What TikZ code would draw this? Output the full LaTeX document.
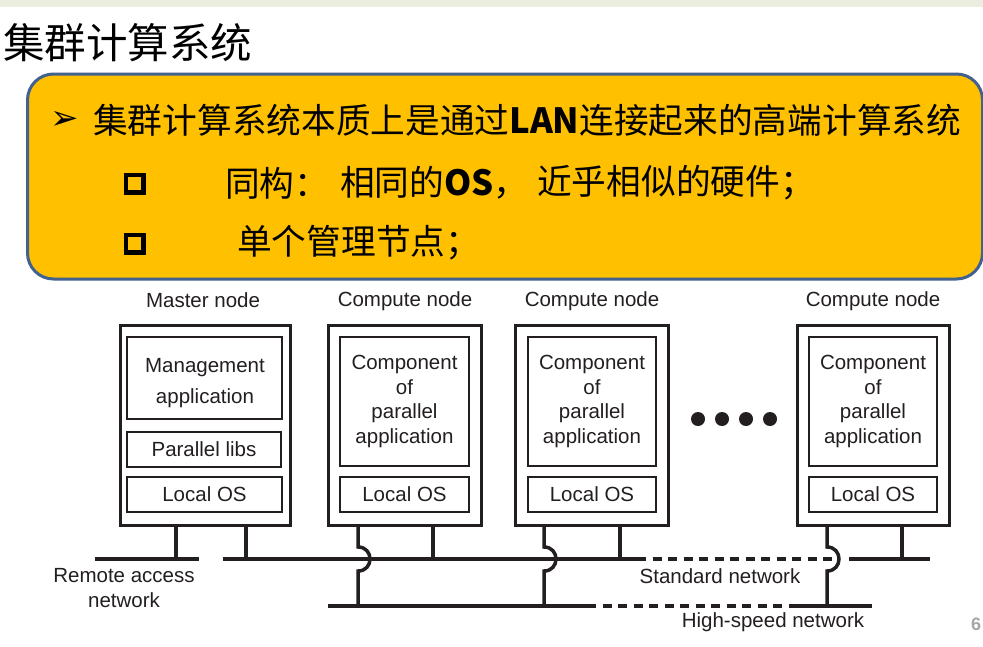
\documentclass[tikz,border=0pt]{standalone}
\usepackage{fontspec}
\setmainfont{Liberation Sans}
\newfontfamily\cjk{Noto Sans CJK SC}
\newfontfamily\dejavu{DejaVu Sans}
\definecolor{bandgray}{HTML}{EBEEDF}
\definecolor{panelfill}{HTML}{FFC000}
\definecolor{panelline}{HTML}{41618F}
\definecolor{ink}{HTML}{231F20}
\definecolor{pagegray}{HTML}{A6A6A6}
\begin{document}
\begin{tikzpicture}[x=1pt,y=-1pt,
  outerbox/.style={draw=ink, line width=3pt, minimum height=200pt, minimum width=153pt, inner sep=0pt},
  innerbox/.style={draw=ink, line width=1.8pt, inner sep=0pt, align=center, text=ink,
     font=\fontsize{20.5}{24.5}\selectfont},
  lbl/.style={inner sep=0pt, text=ink, align=center, font=\fontsize{20.5}{24.5}\selectfont},
  cjktext/.style={inner sep=0pt, anchor=west, font=\cjk\fontsize{34.7}{40}\selectfont},
  sqbullet/.style={draw=black, line width=4.5pt, minimum width=17.5pt, minimum height=17.5pt, inner sep=0pt},
  net/.style={draw=ink, line width=3.5pt, line cap=butt},
  dashnet/.style={draw=ink, line width=3.5pt, line cap=butt, dash pattern=on 9pt off 6.5pt},
  dotmark/.style={circle, fill=ink, minimum size=14pt, inner sep=0pt}
]
\useasboundingbox (0,0) rectangle (983,646);
\fill[white] (0,0) rectangle (983,646);
\fill[bandgray] (0,0) rectangle (983,7);

% title
\node[inner sep=0pt, anchor=west, font=\cjk\fontsize{41.5}{46}\selectfont] (title) at (3,43) {集群计算系统};

% yellow panel
\node[draw=panelline, fill=panelfill, line width=3pt, rounded corners=26pt,
      minimum width=955pt, minimum height=205pt, anchor=north west, inner sep=0pt] (panel) at (26,72.5) {};

\node[inner sep=0pt, font=\dejavu\fontsize{34}{36}\selectfont] (arrowbullet) at (65,120) {➢};
\node[cjktext] (line1) at (93,120) {集群计算系统本质上是通过{\bfseries LAN}连接起来的高端计算系统};
\node[sqbullet] (b2) at (134.5,183.5) {};
\node[cjktext] (line2a) at (225,183) {同构：};
\node[cjktext] (line2b) at (340,183) {相同的{\bfseries OS}，};
\node[cjktext] (line2c) at (537,183) {近乎相似的硬件；};
\node[sqbullet] (b3) at (134.5,243.5) {};
\node[cjktext] (line3) at (237,243) {单个管理节点；};

% master node
\node[lbl] (mlabel) at (203,300) {Master node};
\node[outerbox, minimum width=170pt] (master) at (205,425) {};
\node[innerbox, minimum width=155pt, minimum height=82pt] (mgmt) at (204.5,378) {};
\node[lbl, font=\fontsize{20.5}{31}\selectfont] (mgmttext) at (205,383) {Management\\application};
\node[innerbox, minimum width=154pt, minimum height=35pt] (plibs) at (204,449.5) {Parallel libs};
\node[innerbox, minimum width=155pt, minimum height=35pt] (mos) at (204.5,494.5) {Local OS};

% compute nodes
\node[lbl] (c1label) at (405,301) {Compute node};
\node[outerbox] (c1) at (404.5,425) {};
\node[innerbox, minimum width=129pt, minimum height=129pt] (c1app) at (404.5,401.5) {Component\\of\\parallel\\application};
\node[innerbox, minimum width=129pt, minimum height=35pt] (c1os) at (404.5,494.5) {Local OS};

\node[lbl] (c2label) at (592,301) {Compute node};
\node[outerbox] (c2) at (591.5,425) {};
\node[innerbox, minimum width=128pt, minimum height=129pt] (c2app) at (592,401.5) {Component\\of\\parallel\\application};
\node[innerbox, minimum width=128pt, minimum height=35pt] (c2os) at (592,494.5) {Local OS};

\node[lbl] (c4label) at (873,301) {Compute node};
\node[outerbox, minimum width=152pt] (c4) at (873,425) {};
\node[innerbox, minimum width=128pt, minimum height=129pt] (c4app) at (873,401.5) {Component\\of\\parallel\\application};
\node[innerbox, minimum width=128pt, minimum height=35pt] (c4os) at (873,494.5) {Local OS};

% dots
\node[dotmark] (d1) at (698,419) {};
\node[dotmark] (d2) at (722,419) {};
\node[dotmark] (d3) at (746,419) {};
\node[dotmark] (d4) at (770,419) {};

% network coordinates
\coordinate (ra1) at (95,559);  \coordinate (ra2) at (199,559);
\coordinate (sn1) at (223,559); \coordinate (sn2) at (637,559);
\coordinate (sn3) at (835,559); \coordinate (sn4) at (849,559); \coordinate (sn5) at (930,559);
\coordinate (hs1) at (328,606); \coordinate (hs2) at (587,606);
\coordinate (hs3) at (790,606); \coordinate (hs4) at (872,606);

\draw[net] (ra1) -- (ra2);
\draw[net] (sn1) -- (sn2);
\draw[dashnet] (sn2) -- (sn3);
\draw[net] (sn4) -- (sn5);
\draw[net] (hs1) -- (hs2);
\draw[dashnet] (hs2) -- (hs3);
\draw[net] (hs3) -- (hs4);

% legs
\coordinate (mLt) at (176,525); \coordinate (mLb) at (176,559);
\coordinate (mRt) at (246,525); \coordinate (mRb) at (246,559);
\draw[net] (mLt) -- (mLb);
\draw[net] (mRt) -- (mRb);

\coordinate (c1Lt) at (358,525); \coordinate (c1Lb) at (358,606);
\coordinate (c1Rt) at (433,525); \coordinate (c1Rb) at (433,559);
\draw[net] (c1Lt) -- (358,547) .. controls (374,547) and (374,571) .. (358,571) -- (c1Lb);
\draw[net] (c1Rt) -- (c1Rb);

\coordinate (c2Lt) at (544,525); \coordinate (c2Lb) at (544,606);
\coordinate (c2Rt) at (620,525); \coordinate (c2Rb) at (620,559);
\draw[net] (c2Lt) -- (544,547) .. controls (560,547) and (560,571) .. (544,571) -- (c2Lb);
\draw[net] (c2Rt) -- (c2Rb);

\coordinate (c4Lt) at (827,525); \coordinate (c4Lb) at (827,606);
\coordinate (c4Rt) at (902,525); \coordinate (c4Rb) at (902,559);
\draw[net] (c4Lt) -- (827,547) .. controls (843,547) and (843,571) .. (827,571) -- (c4Lb);
\draw[net] (c4Rt) -- (c4Rb);

% network labels
\node[lbl] (ralabel) at (124,588) {Remote access\\network};
\node[lbl] (snlabel) at (720,576) {Standard network};
\node[lbl] (hslabel) at (773,622) {High-speed network};
\node[inner sep=0pt, text=pagegray, font=\bfseries\fontsize{18}{20}\selectfont] (pagenum) at (976,624) {6};
\end{tikzpicture}
\end{document}
